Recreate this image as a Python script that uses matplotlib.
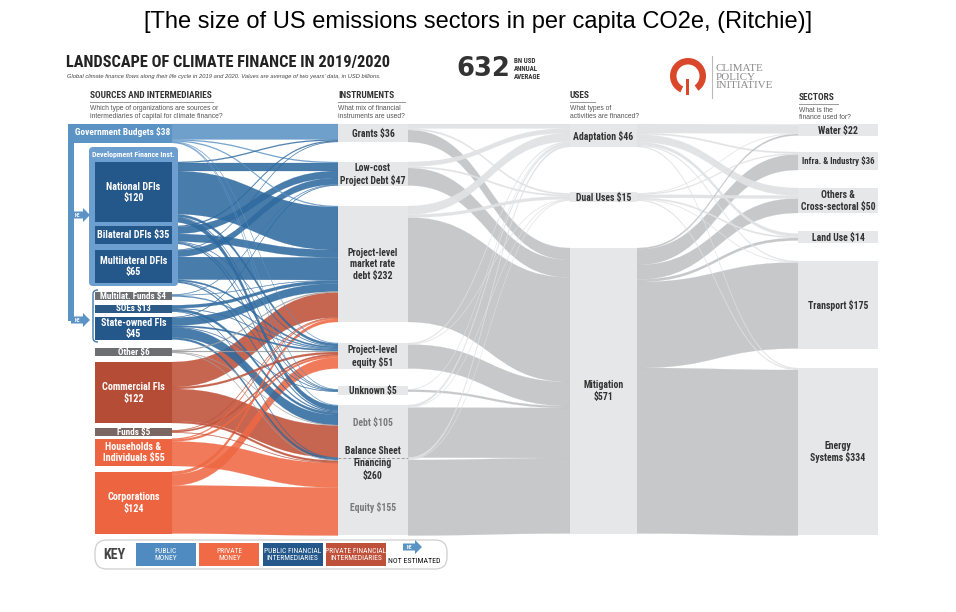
import numpy as np
import matplotlib.pyplot as plt
from matplotlib import font_manager as fm
from matplotlib.path import Path
from matplotlib.patches import PathPatch, Rectangle, FancyBboxPatch, Polygon, Wedge

# node values (USD bn, 2019/2020 average)
sources = ['Government Budgets', 'National DFIs', 'Bilateral DFIs', 'Multilateral DFIs',
           'Multilat. Funds', 'SOEs', 'State-owned FIs', 'Other', 'Commercial FIs', 'Funds',
           'Households & Individuals', 'Corporations']
source_values = [38, 120, 35, 65, 4, 13, 45, 6, 122, 5, 55, 124]
source_labels = ['Government Budgets $38', 'National DFIs\n$120', 'Bilateral DFIs $35',
                 'Multilateral DFIs\n$65', 'Multilat. Funds $4', 'SOEs $13', 'State-owned FIs\n$45',
                 'Other $6', 'Commercial FIs\n$122', 'Funds $5', 'Households &\nIndividuals $55',
                 'Corporations\n$124']

instruments = ['Grants', 'Low-cost Project Debt', 'Project-level market rate debt',
               'Project-level equity', 'Unknown', 'Balance Sheet Debt', 'Balance Sheet Equity']
instrument_values = [36, 47, 232, 51, 5, 105, 155]
instrument_labels = ['Grants $36', 'Low-cost\nProject Debt $47', 'Project-level\nmarket rate\ndebt $232',
                     'Project-level\nequity $51', 'Unknown $5', 'Debt $105', 'Equity $155']
balance_sheet_total = 260

uses = ['Adaptation', 'Dual Uses', 'Mitigation']
use_values = [46, 15, 571]
use_labels = ['Adaptation $46', 'Dual Uses $15', 'Mitigation\n$571']

sectors = ['Water', 'Infra. & Industry', 'Others & Cross-sectoral', 'Land Use', 'Transport', 'Energy Systems']
sector_values = [22, 36, 50, 14, 175, 334]
sector_labels = ['Water $22', 'Infra. & Industry $36', 'Others &\nCross-sectoral $50', 'Land Use $14',
                 'Transport $175', 'Energy\nSystems $334']

# flows read (estimated) from the ribbons
source_to_instrument = [
    [31, 2, 2, 1, 1, 1, 0],
    [2, 16, 86, 5, 1, 10, 0],
    [2, 14, 15, 1, 1, 2, 0],
    [1, 13, 45, 3, 1, 2, 0],
    [0, 1, 1, 2, 0, 0, 0],
    [0, 0, 6, 1, 0, 5, 1],
    [0, 1, 16, 3, 1, 20, 4],
    [0, 0, 2, 2, 0, 1, 1],
    [0, 0, 50, 4, 0, 64, 4],
    [0, 0, 1, 3, 0, 0, 1],
    [0, 0, 2, 4, 0, 0, 49],
    [0, 0, 6, 22, 0, 0, 96],
]
instrument_to_use = [
    [9, 3, 24],
    [9, 3, 35],
    [17, 6, 209],
    [2, 1, 48],
    [1, 0, 4],
    [4, 1, 100],
    [4, 1, 151],
]
use_to_sector = [
    [18, 3, 15, 6, 2, 2],
    [1, 2, 6, 3, 1, 2],
    [3, 31, 29, 5, 172, 331],
]

# styling
S = 0.5  # px per USD bn
DARK = '#333333'
PUBLIC = '#5b93c5'
PRIVATE = '#ee6843'
PUB_FI = '#24578a'
NODE_GRAY = '#e6e7e8'
FLOW_MID = '#c4c5c7'
FLOW_LIGHT = '#e1e2e4'
SANS = ['Liberation Sans', 'DejaVu Sans']

src_box_colors = [PUBLIC, PUB_FI, PUB_FI, PUB_FI, '#6d6e71', '#2c5a86', PUB_FI,
                  '#6d6e71', '#b54c36', '#7a6663', '#ec6440', '#ec6440']
src_flow_colors = [PUBLIC, '#2f6a9f', '#2f6a9f', '#2f6a9f', '#3f79ae', '#2f6a9f', '#2f6a9f',
                   '#a0a0a0', '#bf5038', '#c0533b', PRIVATE, PRIVATE]


def pick_narrow():
    # look for a condensed face, otherwise a fairly narrow sans
    faces = [f for f in fm.fontManager.ttflist
             if 'narrow' in f.fname.lower() or 'condensed' in f.fname.lower()]
    for pref in ('Roboto Condensed', 'Liberation Sans Narrow', 'Open Sans Condensed', 'DejaVu Sans'):
        for f in faces:
            if f.name == pref:
                return {'family': [f.name, 'DejaVu Sans'], 'fontstretch': 'condensed'}
    if faces:
        return {'family': [faces[0].name, 'DejaVu Sans'], 'fontstretch': 'condensed'}
    return {'family': ['Roboto', 'DejaVu Sans']}


NK = pick_narrow()


def node_layout(values, top, gaps, min_box):
    tops, boxes = [], []
    y = top
    for i, v in enumerate(values):
        if i > 0:
            y += gaps[i - 1]
        box = max(v * S, min_box)
        tops.append(y)
        boxes.append(box)
        y += box
    return tops, boxes


def ribbon(ax, x0, x1, y0a, y0b, y1a, y1b, color, alpha, z):
    xm = (x0 + x1) / 2
    verts = [(x0, y0a), (xm, y0a), (xm, y1a), (x1, y1a), (x1, y1b),
             (xm, y1b), (xm, y0b), (x0, y0b), (x0, y0a)]
    codes = [Path.MOVETO, Path.CURVE4, Path.CURVE4, Path.CURVE4, Path.LINETO,
             Path.CURVE4, Path.CURVE4, Path.CURVE4, Path.CLOSEPOLY]
    ax.add_patch(PathPatch(Path(verts, codes), fc=color, ec=color, lw=0.15, alpha=alpha, zorder=z))


def draw_flows(ax, matrix, src, dst, x0, x1, color_fn, alpha=0.9, z=2):
    m = np.array(matrix, float)
    (st, sb), (dt, db) = src, dst
    out_tot, in_tot = m.sum(1), m.sum(0)
    sy = np.zeros_like(m)
    ty = np.zeros_like(m)
    for i in range(m.shape[0]):
        y = st[i] + max(sb[i] - out_tot[i] * S, 0) / 2
        for j in range(m.shape[1]):
            sy[i, j] = y
            y += m[i, j] * S
    for j in range(m.shape[1]):
        y = dt[j] + max(db[j] - in_tot[j] * S, 0) / 2
        for i in range(m.shape[0]):
            ty[i, j] = y
            y += m[i, j] * S
    pairs = [(i, j) for i in range(m.shape[0]) for j in range(m.shape[1]) if m[i, j] > 0]
    pairs.sort(key=lambda p: -m[p])
    for k, (i, j) in enumerate(pairs):
        h = m[i, j] * S
        ribbon(ax, x0, x1, sy[i, j], sy[i, j] + h, ty[i, j], ty[i, j] + h,
               color_fn(i, j), alpha, z + k * 0.001)


fig = plt.figure(figsize=(9.56, 6.12), dpi=100)
ax = fig.add_axes([0, 0, 1, 1])
ax.set_xlim(0, 956)
ax.set_ylim(612, 0)
ax.axis('off')
renderer = fig.canvas.get_renderer()


def fit_size(text, width, size=10, **kw):
    t = ax.text(0, 0, text, fontsize=size, **kw)
    w = t.get_window_extent(renderer).width
    t.remove()
    return size * width / w


# scale so that the narrow font takes the widths of the original lettering
K = fit_size('Government Budgets $38', 95, fontweight='bold', **NK) / 7.0


def lab(x, y, s, base, color='white', ha='center', va='center', bold=True, **kw):
    ax.text(x, y, s, fontsize=base * K, color=color, ha=ha, va=va,
            fontweight='bold' if bold else 'normal', zorder=6, **NK, **kw)


def ne_arrow(x, y, z=6):
    pts = [(x, y - 3.5), (x + 12, y - 3.5), (x + 12, y - 7), (x + 19, y),
           (x + 12, y + 7), (x + 12, y + 3.5), (x, y + 3.5)]
    ax.add_patch(Polygon(pts, closed=True, fc=PUBLIC, ec='none', zorder=z))
    lab(x + 6.5, y + 0.3, 'NE', 3.8)


# column x positions
XS0, XS1 = 95, 172
XI0, XI1 = 338, 408
XU0, XU1 = 570, 637
XC0, XC1 = 798, 878

src_nodes = node_layout(source_values, 124, [19, 4, 6.5, 9, 5, 4.5, 8, 6.5, 4.5, 3, 5.5], 8)
ins_nodes = node_layout(instrument_values, 124, [20, 20.5, 21, 17.5, 10, 0], 9)
use_nodes = node_layout(use_values, 124, [45, 46], 10)
sec_nodes = node_layout(sector_values, 124, [16, 18, 18, 18, 19.5], 12)

# ribbons
draw_flows(ax, source_to_instrument, src_nodes, ins_nodes, XS1, XI0,
           lambda i, j: src_flow_colors[i], alpha=0.88)
draw_flows(ax, instrument_to_use, ins_nodes, use_nodes, XI1, XU0,
           lambda i, j: FLOW_MID if j == 2 else FLOW_LIGHT, alpha=0.95)
draw_flows(ax, use_to_sector, use_nodes, sec_nodes, XU1, XC0,
           lambda i, j: FLOW_MID if i == 2 else FLOW_LIGHT, alpha=0.95)

# government budgets band + NE bracket
st, sb = src_nodes
ax.add_patch(Rectangle((68, st[0]), XS1 - 68, sb[0], fc=PUBLIC, ec='none', zorder=3))
ax.add_patch(Rectangle((68, st[0] + sb[0] - 1), 6, 322 - st[0] - sb[0], fc=PUBLIC, ec='none', zorder=3))
ne_arrow(71, 215)
ne_arrow(71, 320)

# development finance inst. group
ax.add_patch(FancyBboxPatch((89, 147), 89, 139, boxstyle='round,pad=0,rounding_size=4',
                            fc='#6c9fcf', ec='none', zorder=3))
lab(133.5, 154.5, 'Development Finance Inst.', 5.8)

# bracket around state owned group
brk = Path([(98, 290), (93, 290), (93, 294), (93, 338), (93, 342), (98, 342)],
           [Path.MOVETO, Path.CURVE3, Path.CURVE3, Path.LINETO, Path.CURVE3, Path.CURVE3])
ax.add_patch(PathPatch(brk, fc='none', ec='#3f79ae', lw=1.0, zorder=4))

# source boxes and labels
for i, text in enumerate(source_labels):
    if i == 0:
        lab(75, st[0] + 8, text, 7, ha='left')
        continue
    ax.add_patch(Rectangle((XS0, st[i]), XS1 - XS0, sb[i], fc=src_box_colors[i], ec='none', zorder=4))
    small = sb[i] < 12
    lab((XS0 + XS1) / 2, st[i] + sb[i] / 2 + 0.5, text, 6.8 if small else 7.5, linespacing=1.15)

# instrument boxes
it, ib = ins_nodes
for i in range(5):
    ax.add_patch(Rectangle((XI0, it[i]), XI1 - XI0, ib[i], fc=NODE_GRAY, ec='none', zorder=4))
    lab((XI0 + XI1) / 2, it[i] + ib[i] / 2 + 0.5, instrument_labels[i], 7.3, color=DARK, linespacing=1.2)
bs_top, bs_bot = it[5], it[6] + ib[6]
ax.add_patch(Rectangle((XI0, bs_top), XI1 - XI0, bs_bot - bs_top, fc=NODE_GRAY, ec='none', zorder=4))
ax.plot([XI0, XI1], [it[6], it[6]], color='#9a9a9a', lw=0.7, ls=(0, (3, 2)), zorder=5)
for i in (5, 6):
    lab((XI0 + XI1) / 2, it[i] + ib[i] * (0.35 if i == 5 else 0.65), instrument_labels[i], 7.3,
        color='#7a7a7a')
lab((XI0 + XI1) / 2, it[6] + 6, f'Balance Sheet\nFinancing\n${balance_sheet_total}', 7.3,
    color=DARK, linespacing=1.25)

# uses and sectors
for (tops, boxes), labels, x0, x1 in [(use_nodes, use_labels, XU0, XU1),
                                      (sec_nodes, sector_labels, XC0, XC1)]:
    for i, text in enumerate(labels):
        ax.add_patch(Rectangle((x0, tops[i]), x1 - x0, boxes[i], fc=NODE_GRAY, ec='none', zorder=4))
        base = 6.6 if text.startswith('Infra') else 7.3
        lab((x0 + x1) / 2, tops[i] + boxes[i] / 2 + 0.5, text, base, color=DARK, linespacing=1.2)

# titles
ax.text(478, 22, '[The size of US emissions sectors in per capita CO2e, (Ritchie)]',
        fontsize=fit_size('[The size of US emissions sectors in per capita CO2e, (Ritchie)]', 668, family=SANS),
        ha='center', va='center', family=SANS)
title = 'LANDSCAPE OF CLIMATE FINANCE IN 2019/2020'
ax.text(66, 63, title, fontsize=fit_size(title, 323, fontweight='bold', **NK), fontweight='bold',
        ha='left', va='center', color='#222222', **NK)
sub = ("Global climate finance flows along their life cycle in 2019 and 2020. "
       "Values are average of two years' data, in USD billions.")
ax.text(67, 76.5, sub, fontsize=fit_size(sub, 312, style='italic', family=SANS), style='italic',
        ha='left', va='center', family=SANS, color='#444444')
ax.text(456, 69, '632', fontsize=fit_size('632', 54, fontweight='bold', family='DejaVu Sans'),
        fontweight='bold', ha='left', va='center', family='DejaVu Sans', color='#333333')
lab(514, 69, 'BN USD\nANNUAL\nAVERAGE', 5.2, color='#333333', ha='left', linespacing=0.95)

# logo
ax.add_patch(Wedge((688, 76), 18, -245, 55, width=6.5, fc='#d9482b', ec='none'))
ax.add_patch(Rectangle((686.5, 79), 3, 16, fc='#d9482b', ec='none'))
ax.plot([712, 712], [56, 98], color='#bbbbbb', lw=0.8)
ax.text(716, 77, 'CLIMATE\nPOLICY\nINITIATIVE',
        fontsize=fit_size('INITIATIVE', 57, family=['Liberation Serif', 'DejaVu Serif']),
        ha='left', va='center', family=['Liberation Serif', 'DejaVu Serif'], color='#8a8a8a',
        linespacing=0.95)

# column headers
headers = [(90, 213, 'SOURCES AND INTERMEDIARIES',
            'Which type of organizations are sources or\nintermediaries of capital for climate finance?'),
           (338, 405, 'INSTRUMENTS', 'What mix of financial\ninstruments are used?'),
           (570, 595, 'USES', 'What types of\nactivities are financed?'),
           (799, 838, 'SECTORS', 'What is the\nfinance used for?')]
head_fs = fit_size('SOURCES AND INTERMEDIARIES', 122, fontweight='bold', **NK)
sub_fs = fit_size('intermediaries of capital for climate finance?', 132, family=SANS)
for x0, x1, head, subt in headers:
    yh = 96 if head != 'SECTORS' else 97.5
    ax.text(x0, yh, head, fontsize=head_fs, fontweight='bold', ha='left', va='center',
            color='#333333', **NK)
    ax.plot([x0, x1], [yh + 6, yh + 6], color='#999999', lw=0.7)
    ax.text(x0, yh + 9, subt, fontsize=sub_fs, ha='left', va='top',
            family=SANS, color='#555555', linespacing=1.15)

# key
ax.add_patch(FancyBboxPatch((95, 540), 352, 29, boxstyle='round,pad=0,rounding_size=12',
                            fc='white', ec='#cfcfcf', lw=0.9))
lab(103, 555, 'KEY', 10.5, color='#444444', ha='left')
key_items = [('PUBLIC\nMONEY', '#4f8bc0'), ('PRIVATE\nMONEY', '#ef6a45'),
             ('PUBLIC FINANCIAL\nINTERMEDIARIES', PUB_FI), ('PRIVATE FINANCIAL\nINTERMEDIARIES', '#bf5039')]
for k, (text, col) in enumerate(key_items):
    kx = 136 + k * 63.3
    ax.add_patch(Rectangle((kx, 543), 60, 23, fc=col, ec='none'))
    lab(kx + 30, 554.5, text, 5.6, bold=False, linespacing=1.3)
ne_arrow(403, 547)
lab(414, 561, 'NOT ESTIMATED', 5.9, color='#111111', bold=False)

fig.savefig('out.png', dpi=100)
